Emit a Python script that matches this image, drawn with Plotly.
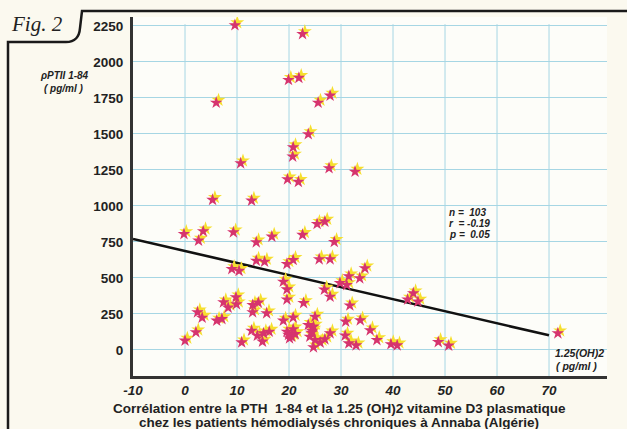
import plotly.graph_objects as go

# 1.25(OH)2 vitamin D3 (pg/ml)
vitd = [9.6, 22.6, 19.9, 21.9, 6.0, 25.6, 27.9, 23.7, 20.8, 20.7, 10.7, 27.7, 32.7, 19.7, 21.8, 5.3, 12.8,
        -0.2, 3.5, 2.6, 9.3, 13.7, 16.7, 22.6, 25.4, 26.9, 28.7, 13.7, 15.3, 19.6, 20.8, 25.8, 27.9, 9.0, 10.4,
        34.6, 31.5, 33.6, 29.8, 31.1, 18.9, 19.6, 19.6, 26.8, 27.9, 9.8, 9.9, 7.4, 8.3, 22.8, 31.7, 13.0, 14.1,
        42.8, 43.9, 44.8,
        2.4, 3.3, 6.1, 7.1, 13.0, 15.7, 18.9, 20.8, 25.0, 30.9, 33.7, 12.8, 13.9, 15.1, 16.2, 14.9, 10.9, 2.1,
        0.0, 19.6, 20.5, 20.8, 20.1, 23.7, 24.4, 24.7, 24.0, 25.0, 24.7, 26.0, 26.9, 27.9, 30.8, 31.5, 32.9,
        35.6, 36.9, 39.6, 40.8, 48.7, 50.7, 71.7, 21.2, 19.9, 24.3]
# PTH 1-84 (pg/ml)
pth = [2255, 2194, 1875, 1889, 1717, 1717, 1766, 1498, 1408, 1343, 1296, 1262, 1238, 1185, 1167, 1042, 1037,
       805, 824, 759, 817, 748, 787, 799, 875, 891, 750, 620, 613, 597, 625, 630, 630, 562, 549,
       567, 512, 498, 465, 451, 474, 421, 350, 419, 370, 366, 317, 331, 294, 326, 309, 312, 329,
       350, 394, 336,
       262, 224, 204, 215, 262, 255, 204, 225, 231, 197, 206, 134, 99, 116, 127, 58, 53, 123,
       65, 127, 92, 144, 81, 174, 134, 162, 92, 69, 19, 51, 74, 116, 100, 46, 32,
       137, 69, 40, 32, 55, 30, 116, 110, 105, 120]

# regression line end points
reg_x = [-10, 70]
reg_y = [771, 102]

x_ticks = [-10, 0, 10, 20, 30, 40, 50, 60, 70]
y_ticks = [0, 250, 500, 750, 1000, 1250, 1500, 1750, 2000, 2250]

W, H = 627, 429
L, R, T, B = 133, 20, 17, 53
pw, ph = W - L - R, H - T - B
def px(x): return (x - L) / pw
def py(y): return (H - B - y) / ph

XR = [-10, 81.15]
YR = [-180.6, 2312]
GRID = '#a6d6e4'
INK = '#222222'
FONT = 'Liberation Sans, Arial, sans-serif'

fig = go.Figure()

# vertical grid lines (stop at top gridline)
for t in x_ticks[1:]:
    fig.add_shape(type='line', xref='x', yref='y', x0=t, x1=t, y0=YR[0], y1=2262,
                  line=dict(color=GRID, width=1), layer='below')

fig.add_trace(go.Scatter(x=reg_x, y=reg_y, mode='lines', line=dict(color='#111111', width=2.6),
                         hoverinfo='skip', showlegend=False))
# yellow highlight (offset) behind each star
fig.add_trace(go.Scatter(x=[v + 0.45 for v in vitd], y=[p + 18 for p in pth], mode='markers',
                         marker=dict(symbol='star', size=10.5, color='#f6df2e', line=dict(width=0)),
                         hoverinfo='skip', showlegend=False))
fig.add_trace(go.Scatter(x=vitd, y=pth, mode='markers',
                         marker=dict(symbol='star', size=9.5, color='#d6346e', line=dict(width=0)),
                         showlegend=False))

fig.update_xaxes(range=XR, tickvals=x_ticks, ticktext=[str(t) for t in x_ticks], showgrid=False,
                 zeroline=False, showline=True, linecolor='#333333', linewidth=3, ticks='',
                 tickfont=dict(family=FONT, size=13.5, color=INK, weight='bold', style='italic'))
fig.update_yaxes(range=YR, tickvals=y_ticks, showgrid=True, gridcolor=GRID, gridwidth=1,
                 zeroline=False, showline=True, linecolor='#333333', linewidth=3, ticks='',
                 ticklabelstandoff=4,
                 tickfont=dict(family=FONT, size=13.5, color=INK, weight='bold'))

ann = []
def A(x, y, text, size, xanchor='center', italic=True, bold=True, font=FONT):
    ann.append(dict(xref='paper', yref='paper', x=px(x), y=py(y), text=text, showarrow=False,
                    xanchor=xanchor, yanchor='middle',
                    font=dict(family=font, size=size, color=INK, weight='bold' if bold else 'normal',
                              style='italic' if italic else 'normal')))

A(64, 76, 'ρPTII 1-84', 10)
A(64, 88, '( pg/ml )', 10)
A(447, 212, 'n =  103', 10, 'left')
A(447, 223.5, 'r  = -0.19', 10, 'left')
A(447, 235, 'p =  0.05', 10, 'left')
A(606, 353, '1.25(OH)2', 10.5, 'right')
A(599, 366, '( pg/ml )', 10.5, 'right')
A(339, 408.5, 'Corrélation entre la PTH  1-84 et la 1.25 (OH)2 vitamine D3 plasmatique', 13.5, italic=False)
A(339, 422, 'chez les patients hémodialysés chroniques à Annaba (Algérie)', 13.5, italic=False)
A(37, 24, 'Fig. 2', 21, bold=False, font='Liberation Serif, Times New Roman, serif')

# frame with "Fig. 2" tab
path = (f'M {px(8)} {py(432)} L {px(8)} {py(42)} L {px(66)} {py(42)} '
        f'Q {px(79)} {py(42)} {px(80)} {py(28)} L {px(82)} {py(11)} L {px(630)} {py(11)}')
fig.add_shape(type='path', xref='paper', yref='paper', path=path,
              line=dict(color='#1a1a1a', width=2.5))

fig.update_layout(width=W, height=H, margin=dict(l=L, r=R, t=T, b=B),
                  paper_bgcolor='#fbf9ef', plot_bgcolor='#fdfdf9',
                  annotations=ann, showlegend=False)

fig.write_html('out.html')
